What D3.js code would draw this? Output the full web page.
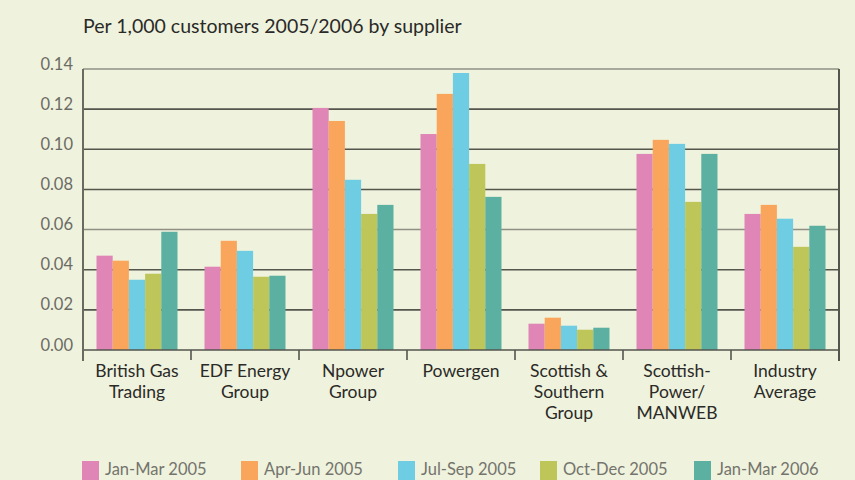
<!DOCTYPE html>
<html>
<head>
<meta charset="utf-8">
<script src="https://cdn.jsdelivr.net/npm/d3@7"></script>
<style>
  body { margin: 0; background: #eff2dc; }
  svg { display: block; font-family: Lato, "Open Sans", sans-serif; }
</style>
</head>
<body>
<div id="chart"></div>
<script>
// data
const categories = ['British Gas|Trading', 'EDF Energy|Group', 'Npower|Group', 'Powergen',
  'Scottish &|Southern|Group', 'Scottish-|Power/|MANWEB', 'Industry|Average'];
const seriesNames = ['Jan-Mar 2005', 'Apr-Jun 2005', 'Jul-Sep 2005', 'Oct-Dec 2005', 'Jan-Mar 2006'];
const janMar2005 = [0.047, 0.0415, 0.1206, 0.1076, 0.0131, 0.0977, 0.0678];
const aprJun2005 = [0.0445, 0.0544, 0.1141, 0.1276, 0.0161, 0.1047, 0.0723];
const julSep2005 = [0.035, 0.0494, 0.0848, 0.138, 0.0121, 0.1027, 0.0654];
const octDec2005 = [0.038, 0.0365, 0.0678, 0.0927, 0.0101, 0.0738, 0.0514];
const janMar2006 = [0.0589, 0.037, 0.0723, 0.0763, 0.0111, 0.0977, 0.0619];
const yTicks = [0, 0.02, 0.04, 0.06, 0.08, 0.10, 0.12, 0.14];
const colors = ['#e086b6', '#f9a65c', '#6ecde3', '#bec65a', '#5cb0a1'];

const seriesValues = [janMar2005, aprJun2005, julSep2005, octDec2005, janMar2006];

const width = 855, height = 480;
const plotLeft = 83, plotRight = 839, plotTop = 69, plotBottom = 350;

const svg = d3.select('#chart').append('svg')
  .attr('width', width)
  .attr('height', height);

const x0 = d3.scaleBand().domain(categories).range([plotLeft, plotRight]);
const x1 = d3.scaleBand().domain(seriesNames).range([13.5, x0.bandwidth() - 13.5]);
const y = d3.scaleLinear().domain([0, 0.14]).range([plotBottom, plotTop]);

// title
svg.append('text')
  .attr('x', 83).attr('y', 33)
  .style('font-size', '19.5px')
  .style('fill', '#2a2a28')
  .text('Per 1,000 customers 2005/2006 by supplier');

// grid lines
svg.append('g').selectAll('line')
  .data(yTicks.filter(d => d > 0))
  .enter().append('line')
  .attr('x1', plotLeft).attr('x2', plotRight)
  .attr('y1', d => y(d)).attr('y2', d => y(d))
  .style('stroke', d => (d === 0.14 || d === 0.06) ? '#8f9084' : '#55554e')
  .style('stroke-width', 1.6);

// y axis labels
const yAxis = svg.append('g')
  .attr('transform', `translate(${plotLeft},0)`)
  .call(d3.axisLeft(y).tickValues(yTicks).tickSize(0).tickPadding(10).tickFormat(d3.format('.2f')));
yAxis.select('.domain').remove();
yAxis.selectAll('text')
  .attr('dy', '0')
  .style('font-family', 'Lato, sans-serif')
  .style('font-size', '16.5px')
  .style('fill', '#6b6b66');

// bars
const groups = svg.append('g').selectAll('g')
  .data(categories)
  .enter().append('g')
  .attr('transform', d => `translate(${x0(d)},0)`);

groups.selectAll('rect')
  .data((c, ci) => seriesNames.map((s, si) => ({ s: s, v: seriesValues[si][ci], i: si })))
  .enter().append('rect')
  .attr('x', d => x1(d.s))
  .attr('y', d => y(d.v))
  .attr('width', x1.bandwidth())
  .attr('height', d => plotBottom - y(d.v))
  .style('fill', d => colors[d.i]);

// axes frame
svg.append('line')
  .attr('x1', plotLeft).attr('x2', plotRight).attr('y1', plotBottom).attr('y2', plotBottom)
  .style('stroke', '#55554e').style('stroke-width', 1.6);
svg.append('line')
  .attr('x1', plotLeft).attr('x2', plotLeft).attr('y1', plotTop).attr('y2', 361)
  .style('stroke', '#6a6a62').style('stroke-width', 2);
svg.append('line')
  .attr('x1', plotRight).attr('x2', plotRight).attr('y1', plotTop).attr('y2', 361)
  .style('stroke', '#55554e').style('stroke-width', 2);
svg.append('g').selectAll('line')
  .data(categories.slice(1))
  .enter().append('line')
  .attr('x1', d => x0(d)).attr('x2', d => x0(d))
  .attr('y1', plotBottom).attr('y2', 360)
  .style('stroke', '#55554e').style('stroke-width', 1.6);

// category labels
const labels = svg.append('g').selectAll('text')
  .data(categories)
  .enter().append('text')
  .attr('x', d => x0(d) + x0.bandwidth() / 2)
  .attr('y', 377)
  .attr('text-anchor', 'middle')
  .style('font-size', '17.5px')
  .style('fill', '#2a2a28');
labels.selectAll('tspan')
  .data(d => d.split('|'))
  .enter().append('tspan')
  .attr('x', function () { return d3.select(this.parentNode).attr('x'); })
  .attr('dy', (d, i) => i === 0 ? 0 : 21)
  .text(d => d);

// legend
const legendX = [82, 241, 398, 540, 694];
const legend = svg.append('g').selectAll('g')
  .data(seriesNames)
  .enter().append('g')
  .attr('transform', (d, i) => `translate(${legendX[i]},461)`);
legend.append('rect')
  .attr('width', 17).attr('height', 19)
  .style('fill', (d, i) => colors[i]);
legend.append('text')
  .attr('x', 23).attr('y', 14)
  .style('font-size', '16.5px')
  .style('fill', '#74746e')
  .text(d => d);
</script>
</body>
</html>
